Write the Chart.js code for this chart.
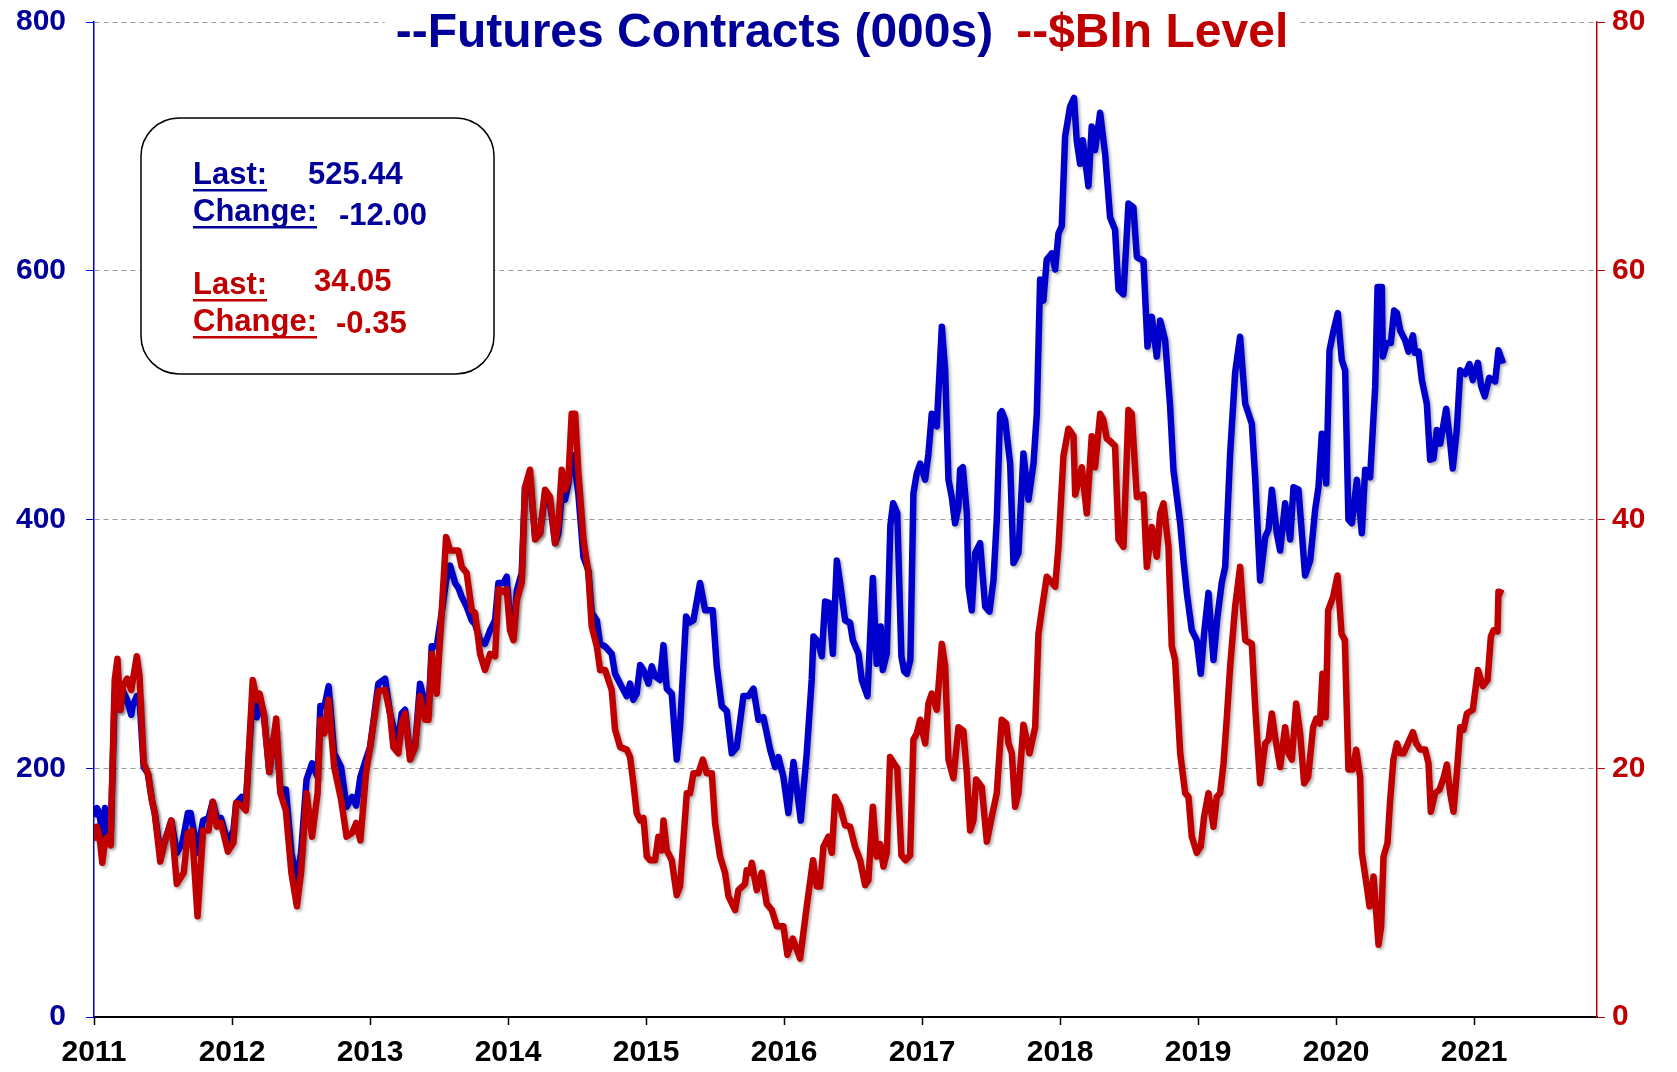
<!doctype html>
<html>
<head>
<script src="https://cdnjs.cloudflare.com/ajax/libs/Chart.js/4.4.1/chart.umd.min.js"></script>
<style>
  body { margin: 0; background: #fff; }
</style>
</head>
<body>
<canvas id="c1" width="1677" height="1072"></canvas>
<script>
// weekly-ish readings: [decimal year, value]
const futuresContracts = [
  [2011.00,161],[2011.02,168],[2011.04,164],[2011.06,145],[2011.08,168],[2011.10,150],[2011.12,140],[2011.15,260],[2011.17,265],[2011.19,247],[2011.21,262],[2011.24,255],[2011.27,243],[2011.28,250],[2011.31,258],[2011.33,255],[2011.36,201],[2011.39,196],[2011.42,174],[2011.44,164],[2011.48,132],[2011.51,140],[2011.56,158],[2011.60,132],[2011.64,140],[2011.68,164],[2011.70,164],[2011.75,132],[2011.79,158],[2011.83,160],[2011.86,173],[2011.89,160],[2011.92,160],[2011.97,140],
  [2012.01,150],[2012.03,172],[2012.07,177],[2012.10,172],[2012.15,260],[2012.18,241],[2012.20,250],[2012.23,244],[2012.27,197],[2012.30,223],[2012.32,230],[2012.35,183],[2012.39,183],[2012.43,132],[2012.47,110],[2012.50,132],[2012.54,191],[2012.58,204],[2012.62,193],[2012.64,250],[2012.67,250],[2012.70,266],[2012.74,212],[2012.79,201],[2012.83,169],[2012.87,177],[2012.90,170],[2012.93,193],[2012.97,207],
  [2013.000,217],[2013.060,268],[2013.109,272],[2013.145,244],[2013.169,233],[2013.205,223],[2013.229,244],[2013.254,247],[2013.290,209],[2013.326,217],[2013.362,268],[2013.399,252],[2013.423,244],[2013.447,298],[2013.483,298],[2013.519,325],[2013.551,351],[2013.580,363],[2013.616,349],[2013.640,345],[2013.664,338],[2013.700,330],[2013.737,319],[2013.761,316],[2013.797,303],[2013.833,300],[2013.870,311],[2013.906,319],[2013.930,349],[2013.966,349],[2013.990,354],
  [2014.014,319],[2014.039,306],[2014.063,343],[2014.099,357],[2014.123,426],[2014.159,434],[2014.196,386],[2014.232,389],[2014.268,421],[2014.304,413],[2014.341,381],[2014.365,389],[2014.389,421],[2014.413,416],[2014.437,429],[2014.461,452],[2014.486,440],[2014.510,420],[2014.546,370],[2014.582,359],[2014.606,325],[2014.643,319],[2014.667,300],[2014.703,298],[2014.727,295],[2014.751,292],[2014.775,276],[2014.812,268],[2014.860,258],
  [2014.884,268],[2014.908,255],[2014.932,260],[2014.957,283],[2014.981,279],[2015.017,268],[2015.041,282],[2015.065,274],[2015.101,271],[2015.126,299],[2015.150,264],[2015.186,260],[2015.222,207],[2015.246,233],[2015.290,322],[2015.314,317],[2015.343,319],[2015.391,349],[2015.428,327],[2015.483,327],[2015.512,282],[2015.548,250],[2015.585,246],[2015.621,212],[2015.657,217],[2015.705,258],[2015.742,258],[2015.778,264],[2015.814,239],[2015.850,241],[2015.899,215],[2015.935,201],[2015.959,209],[2015.995,193],
  [2016.031,164],[2016.068,205],[2016.121,158],[2016.164,212],[2016.200,271],[2016.213,306],[2016.249,301],[2016.273,290],[2016.297,334],[2016.326,333],[2016.353,292],[2016.382,367],[2016.406,349],[2016.442,319],[2016.478,317],[2016.498,303],[2016.539,292],[2016.563,271],[2016.604,258],[2016.643,353],[2016.671,284],[2016.700,314],[2016.715,279],[2016.744,292],[2016.770,395],[2016.790,413],[2016.820,405],[2016.850,290],[2016.870,278],[2016.890,276],[2016.915,287],[2016.937,421],[2016.961,437],[2016.986,445],
  [2017.022,432],[2017.046,453],[2017.070,485],[2017.082,477],[2017.106,475],[2017.143,555],[2017.167,520],[2017.191,432],[2017.215,418],[2017.239,397],[2017.263,410],[2017.275,440],[2017.295,442],[2017.324,405],[2017.336,346],[2017.360,327],[2017.384,373],[2017.420,381],[2017.457,330],[2017.488,326],[2017.517,351],[2017.541,400],[2017.565,485],[2017.577,487],[2017.601,480],[2017.638,445],[2017.662,365],[2017.698,373],[2017.734,453],[2017.771,416],[2017.807,445],[2017.831,485],[2017.855,593],[2017.879,576],[2017.903,609],[2017.940,614],[2017.964,601],[2017.988,630],
  [2018.012,636],[2018.036,708],[2018.072,732],[2018.101,739],[2018.120,705],[2018.145,686],[2018.164,705],[2018.205,668],[2018.229,716],[2018.253,697],[2018.290,727],[2018.326,694],[2018.362,643],[2018.398,633],[2018.423,585],[2018.459,581],[2018.495,654],[2018.531,651],[2018.556,611],[2018.604,608],[2018.633,539],[2018.664,563],[2018.700,531],[2018.725,560],[2018.761,544],[2018.797,491],[2018.821,440],[2018.870,397],[2018.894,367],[2018.918,341],[2018.954,311],[2018.990,303],
  [2019.019,276],[2019.043,308],[2019.075,341],[2019.111,287],[2019.140,322],[2019.171,349],[2019.196,362],[2019.232,453],[2019.268,518],[2019.304,547],[2019.341,493],[2019.389,477],[2019.413,434],[2019.449,351],[2019.486,386],[2019.510,392],[2019.534,424],[2019.570,389],[2019.594,375],[2019.630,413],[2019.667,384],[2019.691,426],[2019.727,424],[2019.775,355],[2019.812,367],[2019.848,408],[2019.872,426],[2019.896,469],[2019.928,429],[2019.952,536],[2019.981,552],
  [2020.012,566],[2020.041,528],[2020.065,520],[2020.089,400],[2020.114,397],[2020.150,432],[2020.186,389],[2020.210,440],[2020.246,434],[2020.283,507],[2020.300,587],[2020.331,587],[2020.338,531],[2020.367,542],[2020.396,542],[2020.420,568],[2020.440,566],[2020.464,552],[2020.500,544],[2020.524,535],[2020.556,548],[2020.572,534],[2020.597,535],[2020.621,512],[2020.657,493],[2020.681,448],[2020.705,449],[2020.729,472],[2020.754,461],[2020.797,489],[2020.821,467],[2020.845,441],[2020.874,472],[2020.899,520],[2020.935,517],[2020.966,525],[2020.990,512],
  [2021.027,526],[2021.051,507],[2021.077,499],[2021.109,514],[2021.152,511],[2021.176,536],[2021.210,525.44]
];

const blnLevel = [
  [2011.00,14.2],[2011.02,15.3],[2011.04,14.5],[2011.06,12.4],[2011.08,14.2],[2011.10,14.5],[2011.12,13.8],[2011.15,27.1],[2011.17,28.8],[2011.19,24.7],[2011.21,26.6],[2011.24,27.2],[2011.27,26.3],[2011.31,29.0],[2011.33,27.4],[2011.36,20.4],[2011.39,19.6],[2011.42,17.4],[2011.44,16.4],[2011.48,12.5],[2011.51,14.0],[2011.56,15.8],[2011.60,10.7],[2011.65,11.6],[2011.68,14.8],[2011.71,15.0],[2011.75,8.1],[2011.79,15.0],[2011.83,15.0],[2011.86,17.3],[2011.89,15.3],[2011.92,15.6],[2011.97,13.3],
  [2012.01,14.0],[2012.03,17.2],[2012.07,17.0],[2012.10,16.6],[2012.15,27.1],[2012.18,25.5],[2012.20,26.0],[2012.23,24.4],[2012.27,19.7],[2012.30,22.3],[2012.32,24.0],[2012.35,18.0],[2012.39,16.6],[2012.43,11.6],[2012.47,8.9],[2012.50,11.6],[2012.54,18.0],[2012.58,14.5],[2012.62,18.0],[2012.64,23.9],[2012.67,22.8],[2012.70,25.5],[2012.74,20.1],[2012.79,17.5],[2012.83,14.5],[2012.87,14.8],[2012.90,15.6],[2012.93,14.2],[2012.97,19.5],
  [2013.000,21.7],[2013.060,26.2],[2013.109,26.3],[2013.145,24.4],[2013.169,21.7],[2013.205,21.2],[2013.229,23.6],[2013.254,24.4],[2013.290,20.7],[2013.326,21.7],[2013.362,25.8],[2013.399,23.9],[2013.423,23.9],[2013.447,29.2],[2013.483,26.0],[2013.519,32.5],[2013.551,38.6],[2013.580,37.5],[2013.616,37.5],[2013.640,37.5],[2013.664,36.2],[2013.700,35.7],[2013.737,32.7],[2013.761,32.5],[2013.797,29.2],[2013.833,27.9],[2013.870,29.2],[2013.906,29.0],[2013.930,34.4],[2013.966,34.2],[2013.990,34.4],
  [2014.014,31.1],[2014.039,30.3],[2014.063,33.5],[2014.099,34.9],[2014.123,42.6],[2014.159,44.0],[2014.196,38.4],[2014.232,38.9],[2014.268,42.4],[2014.304,41.8],[2014.341,38.1],[2014.365,39.7],[2014.389,44.0],[2014.413,42.4],[2014.437,43.2],[2014.461,48.5],[2014.486,48.5],[2014.510,43.7],[2014.546,38.4],[2014.582,35.7],[2014.606,31.4],[2014.643,29.8],[2014.667,27.9],[2014.703,27.9],[2014.727,27.1],[2014.751,26.3],[2014.775,23.1],[2014.812,21.7],[2014.860,21.5],
  [2014.884,20.9],[2014.908,18.8],[2014.932,16.4],[2014.957,15.8],[2014.981,16.0],[2015.005,12.9],[2015.030,12.6],[2015.065,12.6],[2015.089,14.5],[2015.114,13.4],[2015.126,15.8],[2015.150,13.4],[2015.186,12.6],[2015.222,9.8],[2015.246,10.5],[2015.295,18.0],[2015.319,18.0],[2015.343,19.6],[2015.379,19.6],[2015.411,20.7],[2015.440,19.6],[2015.476,19.6],[2015.500,15.6],[2015.536,12.9],[2015.572,11.6],[2015.597,9.7],[2015.645,8.6],[2015.669,10.2],[2015.717,10.7],[2015.729,11.8],[2015.754,11.6],[2015.766,12.4],[2015.802,10.2],[2015.838,11.6],[2015.874,9.1],[2015.911,8.6],[2015.947,7.3],[2015.995,7.3],
  [2016.024,5.0],[2016.063,6.3],[2016.116,4.7],[2016.164,8.9],[2016.210,12.6],[2016.237,10.5],[2016.261,10.5],[2016.285,13.7],[2016.321,14.5],[2016.346,13.2],[2016.370,17.7],[2016.406,16.9],[2016.442,15.4],[2016.478,15.3],[2016.514,13.7],[2016.551,12.6],[2016.587,10.6],[2016.611,11.0],[2016.643,16.9],[2016.671,12.9],[2016.696,13.9],[2016.720,12.1],[2016.744,13.2],[2016.768,20.9],[2016.795,20.4],[2016.820,20.0],[2016.850,13.0],[2016.880,12.6],[2016.913,13.0],[2016.937,22.3],[2016.961,22.8],[2016.986,23.9],
  [2017.022,22.0],[2017.046,25.2],[2017.070,26.0],[2017.106,24.7],[2017.143,30.0],[2017.167,28.2],[2017.191,20.7],[2017.227,19.2],[2017.263,23.3],[2017.299,23.0],[2017.324,19.6],[2017.348,15.0],[2017.372,15.8],[2017.391,19.1],[2017.432,18.5],[2017.469,14.1],[2017.505,16.1],[2017.541,18.0],[2017.577,23.9],[2017.609,23.6],[2017.626,22.0],[2017.650,21.2],[2017.674,16.9],[2017.698,18.0],[2017.734,23.5],[2017.778,21.2],[2017.819,23.3],[2017.843,30.8],[2017.867,32.7],[2017.903,35.4],[2017.964,34.6],[2017.988,37.8],
  [2018.024,45.1],[2018.060,47.3],[2018.097,46.7],[2018.109,42.0],[2018.157,44.2],[2018.193,40.5],[2018.229,46.7],[2018.253,44.2],[2018.290,48.5],[2018.314,48.0],[2018.338,46.5],[2018.362,46.3],[2018.398,45.9],[2018.423,38.4],[2018.459,37.8],[2018.495,48.8],[2018.519,48.5],[2018.556,41.8],[2018.604,42.0],[2018.628,36.2],[2018.664,39.4],[2018.700,37.0],[2018.725,40.5],[2018.749,41.3],[2018.785,37.8],[2018.809,29.8],[2018.833,28.7],[2018.870,21.2],[2018.906,18.0],[2018.930,17.7],[2018.954,14.5],[2018.990,13.2],
  [2019.019,13.7],[2019.043,16.1],[2019.075,18.0],[2019.111,15.3],[2019.135,17.7],[2019.159,18.0],[2019.184,20.4],[2019.208,24.1],[2019.232,28.2],[2019.268,33.0],[2019.304,36.2],[2019.341,30.3],[2019.389,30.0],[2019.413,25.0],[2019.449,18.8],[2019.486,22.0],[2019.510,22.3],[2019.534,24.4],[2019.558,22.5],[2019.594,20.1],[2019.630,23.3],[2019.655,21.2],[2019.679,20.7],[2019.710,25.2],[2019.739,22.8],[2019.768,18.8],[2019.797,19.3],[2019.833,23.3],[2019.857,24.0],[2019.882,23.6],[2019.901,27.6],[2019.925,24.1],[2019.942,32.7],[2019.978,33.8],
  [2020.010,35.5],[2020.039,30.8],[2020.063,30.3],[2020.089,19.9],[2020.120,19.9],[2020.145,21.5],[2020.174,19.3],[2020.186,13.2],[2020.222,10.5],[2020.242,8.9],[2020.271,11.3],[2020.307,5.8],[2020.326,7.3],[2020.343,12.9],[2020.372,14.0],[2020.391,17.4],[2020.415,20.7],[2020.440,22.0],[2020.464,21.2],[2020.488,21.2],[2020.500,21.5],[2020.556,22.9],[2020.580,22.0],[2020.609,21.5],[2020.645,21.5],[2020.669,20.4],[2020.686,16.5],[2020.717,18.0],[2020.749,18.3],[2020.778,19.2],[2020.802,20.3],[2020.826,18.0],[2020.850,16.5],[2020.874,19.6],[2020.899,23.3],[2020.923,23.1],[2020.947,24.4],[2020.990,24.7],
  [2021.027,27.9],[2021.063,26.6],[2021.097,27.1],[2021.121,30.6],[2021.140,31.1],[2021.169,31.0],[2021.176,34.2],[2021.210,34.05]
];

const yearTicks = [2011, 2012, 2013, 2014, 2015, 2016, 2017, 2018, 2019, 2020, 2021];
const contractTicks = [0, 200, 400, 600, 800];
const blnTicks = [0, 20, 40, 60, 80];

const titleBlue = '--Futures Contracts (000s)';
const titleRed = '--$Bln Level';
const boxBlue = { last: '525.44', change: '-12.00' };
const boxRed = { last: '34.05', change: '-0.35' };

const FONT = '"Liberation Sans", Arial, sans-serif';
const BLUE = '#0000CC', NAVY = '#000099', RED = '#C00000';

function underlined(c, txt, x, y, col) {
  c.fillStyle = col;
  c.fillText(txt, x, y);
  const w = c.measureText(txt).width;
  c.fillRect(x, y + 5, w, 2.5);
}

function roundBox(c, x, y, w, h, r) {
  c.beginPath();
  c.moveTo(x + r, y);
  c.arcTo(x + w, y, x + w, y + h, r);
  c.arcTo(x + w, y + h, x, y + h, r);
  c.arcTo(x, y + h, x, y, r);
  c.arcTo(x, y, x + w, y, r);
  c.closePath();
}

// no extra room for half-labels, the chart area is set by the fixed widths
function noPad(s) {
  s.paddingTop = 0;
  s.paddingBottom = 0;
  s.paddingLeft = 0;
  s.paddingRight = 0;
}

const extras = {
  id: 'extras',
  beforeDatasetsDraw(chart) {
    const c = chart.ctx;
    c.save();
    c.shadowColor = 'rgba(0,0,0,0.3)';
    c.shadowBlur = 3;
    c.shadowOffsetX = 2;
    c.shadowOffsetY = 2;
  },
  afterDatasetsDraw(chart) {
    chart.ctx.restore();
  },
  afterDraw(chart) {
    const c = chart.ctx;
    c.save();
    // title over the top grid line
    c.font = 'bold 48px ' + FONT;
    const wb = c.measureText(titleBlue).width;
    const wr = c.measureText(titleRed).width;
    const gap = 23;
    const x0 = 842 - (wb + gap + wr) / 2;
    c.fillStyle = '#fff';
    c.fillRect(x0 - 11, 0, wb + gap + wr + 22, 58);
    c.textBaseline = 'alphabetic';
    c.fillStyle = NAVY;
    c.fillText(titleBlue, x0, 47);
    c.fillStyle = RED;
    c.fillText(titleRed, x0 + wb + gap, 47);

    // last / change box
    roundBox(c, 141, 118, 353, 256, 38);
    c.fillStyle = '#fff';
    c.fill();
    c.lineWidth = 1.5;
    c.strokeStyle = '#000';
    c.stroke();
    c.font = 'bold 31px ' + FONT;
    underlined(c, 'Last:', 193, 184, NAVY);
    c.fillText(boxBlue.last, 308, 184);
    underlined(c, 'Change:', 193, 221, NAVY);
    c.fillText(boxBlue.change, 339, 225);
    underlined(c, 'Last:', 193, 294, RED);
    c.fillText(boxRed.last, 314, 291);
    underlined(c, 'Change:', 193, 331, RED);
    c.fillText(boxRed.change, 336, 333);
    c.restore();
  }
};

new Chart(document.getElementById('c1'), {
  type: 'line',
  data: {
    datasets: [{
      label: 'Futures Contracts (000s)',
      data: futuresContracts.map(p => ({ x: p[0], y: p[1] })),
      yAxisID: 'y',
      borderColor: BLUE,
      borderWidth: 6.5,
      pointRadius: 0,
      borderJoinStyle: 'round',
      order: 1
    }, {
      label: '$Bln Level',
      data: blnLevel.map(p => ({ x: p[0], y: p[1] })),
      yAxisID: 'y2',
      borderColor: RED,
      borderWidth: 6.5,
      pointRadius: 0,
      borderJoinStyle: 'round',
      order: 0
    }]
  },
  options: {
    responsive: false,
    animation: false,
    layout: { padding: { top: 22, left: 0, right: 0, bottom: 0 } },
    plugins: { legend: { display: false }, tooltip: { enabled: false } },
    scales: {
      x: {
        type: 'linear',
        min: 2011,
        max: 2021.89,
        afterBuildTicks: s => { s.ticks = yearTicks.map(v => ({ value: v })); },
        afterFit: s => { s.height = 55; noPad(s); },
        ticks: {
          callback: v => String(v),
          color: '#000',
          font: { family: FONT, size: 30, weight: 'bold' },
          padding: 10,
          maxRotation: 0,
          autoSkip: false
        },
        grid: { drawOnChartArea: false, tickLength: 8, tickColor: '#000', tickWidth: 1.5 },
        border: { color: '#000', width: 2 }
      },
      y: {
        position: 'left',
        min: 0,
        max: 800,
        afterBuildTicks: s => { s.ticks = contractTicks.map(v => ({ value: v })); },
        afterFit: s => { s.width = 94; noPad(s); },
        ticks: {
          color: NAVY,
          font: { family: FONT, size: 30, weight: 'bold' },
          padding: 20
        },
        grid: {
          color: ctx => (ctx.tick && ctx.tick.value === 0) ? 'rgba(0,0,0,0)' : '#9a9a9a',
          lineWidth: 1,
          tickLength: 8,
          tickColor: BLUE,
          tickBorderDash: []
        },
        border: { color: BLUE, width: 1.5, dash: [5, 4] }
      },
      y2: {
        position: 'right',
        min: 0,
        max: 80,
        afterBuildTicks: s => { s.ticks = blnTicks.map(v => ({ value: v })); },
        afterFit: s => { s.width = 80; noPad(s); },
        ticks: {
          color: RED,
          font: { family: FONT, size: 30, weight: 'bold' },
          padding: 7
        },
        grid: { drawOnChartArea: false, tickLength: 8, tickColor: RED },
        border: { color: RED, width: 1.5 }
      }
    }
  },
  plugins: [extras]
});
</script>
</body>
</html>
